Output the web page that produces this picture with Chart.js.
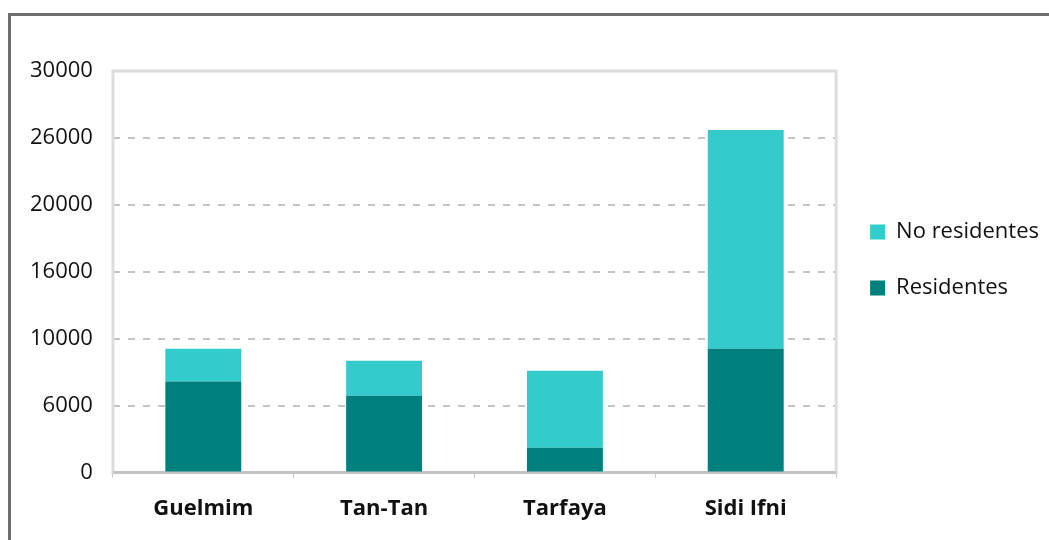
<!DOCTYPE html>
<html>
<head>
<meta charset="utf-8">
<script src="https://cdn.jsdelivr.net/npm/chart.js@4/dist/chart.umd.min.js"></script>
<style>
  html, body { margin: 0; padding: 0; background: #fff; }
  #wrap { position: relative; width: 1049px; height: 540px; }
  #frame { position: absolute; left: 8px; top: 13px; right: -10px; bottom: -10px;
           border-top: 3px solid #6e6e6e; border-left: 3px solid #6e6e6e; pointer-events: none; }
  canvas { position: absolute; left: 0; top: 0; }
</style>
</head>
<body>
<div id="wrap">
  <canvas id="chart" width="1049" height="540"></canvas>
  <div id="frame"></div>
</div>
<script>
  // ── 数据 ──
  const categories = ['Guelmim', 'Tan-Tan', 'Tarfaya', 'Sidi Ifni'];
  const residentes = [6800, 5750, 1850, 9250];
  const noResidentes = [2450, 2610, 5760, 16340];
  const yTickLabels = ['0', '6000', '10000', '16000', '20000', '26000', '30000'];

  const FONT = "'Open Sans', 'Noto Sans', sans-serif";

  // plot border + solid axis line
  const plotFrame = {
    id: 'plotFrame',
    beforeDatasetsDraw(chart) {
      const { ctx, chartArea: a } = chart;
      ctx.save();
      ctx.strokeStyle = '#dcdcdc';
      ctx.lineWidth = 3;
      ctx.strokeRect(a.left, a.top, a.right - a.left, a.bottom - a.top);
      ctx.strokeStyle = '#c4c4c4';
      ctx.beginPath();
      ctx.moveTo(a.left, a.bottom);
      ctx.lineTo(a.right, a.bottom);
      ctx.stroke();
      ctx.restore();
    }
  };

  new Chart(document.getElementById('chart').getContext('2d'), {
    type: 'bar',
    data: {
      labels: categories,
      datasets: [
        { label: 'Residentes', data: residentes, backgroundColor: '#007f7f', borderWidth: 0,
          categoryPercentage: 1, barPercentage: 0.42 },
        { label: 'No residentes', data: noResidentes, backgroundColor: '#33cbcb', borderWidth: 0,
          categoryPercentage: 1, barPercentage: 0.42 },
      ],
    },
    options: {
      responsive: false,
      animation: false,
      layout: { padding: { top: 71, left: 10, right: 0, bottom: 0 } },
      plugins: {
        tooltip: { enabled: false },
        legend: {
          position: 'right',
          align: 'start',
          reverse: true,
          title: { display: true, text: ' ', font: { size: 10 }, padding: { top: 0, bottom: 104 } },
          labels: {
            color: '#111',
            font: { family: FONT, size: 22 },
            boxWidth: 15,
            boxHeight: 15,
            padding: 34,
          },
        },
      },
      scales: {
        x: {
          stacked: true,
          grid: { display: true, drawOnChartArea: false, offset: true, tickLength: 5, color: '#c4c4c4' },
          border: { display: false },
          ticks: { color: '#111', font: { family: FONT, size: 22, weight: 'bold' }, padding: 18 },
        },
        y: {
          stacked: true,
          min: 0,
          max: 30000,
          grid: {
            drawTicks: false,
            lineWidth: 2,
            color: (c) => (c.index === 0 || c.index === yTickLabels.length - 1) ? 'rgba(0,0,0,0)' : '#c4c4c4',
          },
          border: { display: false, dash: [7, 8] },
          ticks: {
            stepSize: 5000,
            padding: 20,
            color: '#111',
            font: { family: FONT, size: 22 },
            callback: (v, i) => yTickLabels[i],
          },
        },
      },
    },
    plugins: [plotFrame],
  });
</script>
</body>
</html>
